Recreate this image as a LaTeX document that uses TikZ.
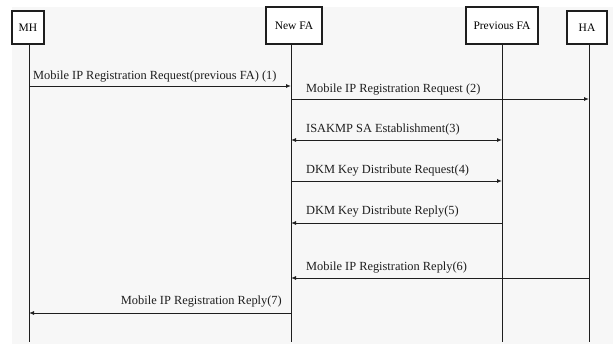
\documentclass[tikz,border=0pt]{standalone}
\usepackage{fontspec}
\setmainfont{Liberation Serif}
\usetikzlibrary{arrows.meta}
\definecolor{bgc}{HTML}{F7F7F7}
\definecolor{ink}{HTML}{1E1E1E}
\tikzset{
  actor/.style={draw=ink, line width=1.1pt, fill=white, inner sep=0pt, font=\fontsize{11.5}{12}\selectfont},
  life/.style={draw=ink, line width=1pt},
  msg/.style={draw=ink, line width=0.9pt, -{Latex[length=5pt,width=4pt]}},
  bimsg/.style={draw=ink, line width=0.9pt, {Latex[length=5pt,width=4pt]}-{Latex[length=5pt,width=4pt]}},
  lbl/.style={inner sep=0pt, font=\fontsize{12.4}{13}\selectfont, text=ink}
}
\begin{document}
\begin{tikzpicture}[x=1pt,y=-1pt]
\useasboundingbox (0,0) rectangle (613,344);
\fill[bgc] (12,7) rectangle (613,344);
% actor boxes
\node[actor, minimum width=32pt, minimum height=33pt] (mh) at (28,27.5) {MH};
\node[actor, minimum width=56pt, minimum height=37pt] (nfa) at (294,25.5) {New FA};
\node[actor, minimum width=72pt, minimum height=37pt] (pfa) at (502,25.5) {Previous FA};
\node[actor, minimum width=40pt, minimum height=33pt] (ha) at (587,27.5) {HA};
% lifeline ends
\coordinate (mhE) at (29,342);
\coordinate (nfaE) at (291,342);
\coordinate (pfaE) at (502,342);
\coordinate (haE) at (589,342);
\draw[life] (mh.south -| mhE) -- (mhE);
\draw[life] (nfa.south -| nfaE) -- (nfaE);
\draw[life] (pfa.south -| pfaE) -- (pfaE);
\draw[life] (ha.south -| haE) -- (haE);
% message points
\coordinate (m1a) at (29,86);  \coordinate (m1b) at (291,86);
\coordinate (m2a) at (291,99); \coordinate (m2b) at (589,99);
\coordinate (m3a) at (291,140); \coordinate (m3b) at (502,140);
\coordinate (m4a) at (291,181); \coordinate (m4b) at (502,181);
\coordinate (m5a) at (502,223); \coordinate (m5b) at (291,223);
\coordinate (m6a) at (589,278); \coordinate (m6b) at (291,278);
\coordinate (m7a) at (291,313); \coordinate (m7b) at (29,313);
\draw[msg] (m1a) -- (m1b);
\draw[msg] (m2a) -- (m2b);
\draw[bimsg] (m3a) -- (m3b);
\draw[msg] (m4a) -- (m4b);
\draw[msg] (m5a) -- (m5b);
\draw[msg] (m6a) -- (m6b);
\draw[msg] (m7a) -- (m7b);
% labels
\node[lbl, anchor=south west] (l1) at (33,82) {Mobile IP Registration Request(previous FA) (1)};
\node[lbl, anchor=south west] (l2) at (306,95) {Mobile IP Registration Request (2)};
\node[lbl, anchor=south west] (l3) at (306,135) {ISAKMP SA Establishment(3)};
\node[lbl, anchor=south west] (l4) at (306,176) {DKM Key Distribute Request(4)};
\node[lbl, anchor=south west] (l5) at (306,217) {DKM Key Distribute Reply(5)};
\node[lbl, anchor=south west] (l6) at (306,273) {Mobile IP Registration Reply(6)};
\node[lbl, anchor=south east] (l7) at (282,307) {Mobile IP Registration Reply(7)};
\end{tikzpicture}
\end{document}
